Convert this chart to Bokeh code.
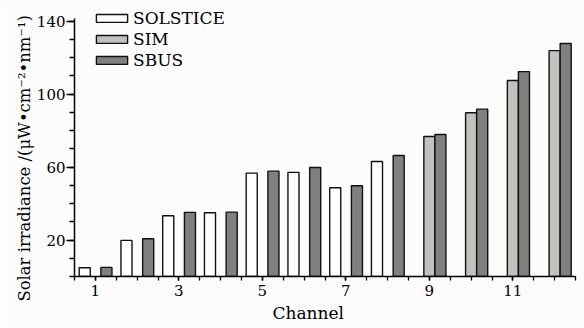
from bokeh.plotting import figure
from bokeh.models import ColumnDataSource, FixedTicker, Range1d, Legend, LegendItem, Title
from bokeh.transform import dodge
from bokeh.embed import file_html
from bokeh.resources import INLINE

# Data
solstice_channels = [1, 2, 3, 4, 5, 6, 7, 8]
solstice_values = [4.8, 19.8, 33.3, 35.0, 56.7, 57.1, 48.7, 63.1]
sim_channels = [9, 10, 11, 12]
sim_values = [76.8, 89.8, 107.5, 123.9]
sbus_channels = [1, 2, 3, 4, 5, 6, 7, 8, 9, 10, 11, 12]
sbus_values = [5.0, 20.7, 35.2, 35.3, 57.8, 59.8, 49.8, 66.4, 77.9, 91.8, 112.4, 127.8]
x_tick_labels = [1, 3, 5, 7, 9, 11]
y_tick_labels = [20, 60, 100, 140]

FONT = "DejaVu Serif"
BG = "#fcfcfc"

p = figure(width=584, height=328, output_backend="svg", toolbar_location=None,
           x_range=Range1d(0.5, 12.5), y_range=Range1d(0, 151.4),
           min_border_left=74, min_border_right=9, min_border_top=0, min_border_bottom=52,
           background_fill_color=BG, border_fill_color=BG)
p.outline_line_color = None
p.grid.visible = False

W = 0.265
src_sol = ColumnDataSource(dict(x=solstice_channels, y=solstice_values))
src_sim = ColumnDataSource(dict(x=sim_channels, y=sim_values))
src_sbus = ColumnDataSource(dict(x=sbus_channels, y=sbus_values))

r_sol = p.vbar(x=dodge("x", -0.255), top="y", bottom=0, width=W, source=src_sol,
               fill_color="white", line_color="#111111", line_width=1.4)
r_sim = p.vbar(x=dodge("x", 0.0), top="y", bottom=0, width=W, source=src_sim,
               fill_color="#c1c1be", line_color="#111111", line_width=1.4)
r_sbus = p.vbar(x=dodge("x", 0.265), top="y", bottom=0, width=W, source=src_sbus,
                fill_color="#808080", line_color="#111111", line_width=1.4)

# axes
xa = p.xaxis[0]
xa.ticker = FixedTicker(ticks=x_tick_labels, minor_ticks=[i * 0.5 for i in range(1, 26)])
ya = p.yaxis[0]
ya.ticker = FixedTicker(ticks=y_tick_labels, minor_ticks=list(range(0, 150, 10)))
ya.bounds = (0, 141.4)

for ax in (xa, ya):
    ax.axis_line_color = "black"
    ax.axis_line_width = 1.5
    ax.major_tick_line_color = "black"
    ax.minor_tick_line_color = "black"
    ax.major_tick_line_width = 1.5
    ax.minor_tick_line_width = 1.3
    ax.major_tick_in = 0
    ax.minor_tick_in = 0
    ax.major_label_text_font = FONT
    ax.major_label_text_color = "black"
    ax.major_label_text_font_size = "15px"

xa.major_tick_out = 4
xa.minor_tick_out = 4
xa.major_label_standoff = 4

ya.major_tick_out = 8
ya.minor_tick_out = 5
ya.major_label_standoff = 1

xtitle = Title(text="Channel", align="left", offset=198, vertical_align="bottom",
               text_font=FONT, text_font_size="17px", text_font_style="normal",
               text_color="black", standoff=5)
p.add_layout(xtitle, "below")

ytitle = Title(text="Solar irradiance /(\u03bcW\u2022cm\u207b\u00b2\u2022nm\u207b\u00b9)",
               align="left", offset=-25, text_font=FONT, text_font_size="16.4px",
               text_font_style="normal", text_color="black", standoff=0)
p.add_layout(ytitle, "left")

legend = Legend(items=[LegendItem(label="SOLSTICE", renderers=[r_sol]),
                       LegendItem(label="SIM", renderers=[r_sim]),
                       LegendItem(label="SBUS", renderers=[r_sbus])],
                location=(18, 206), orientation="vertical")
legend.glyph_width = 39
legend.glyph_height = 10
legend.label_height = 20
legend.spacing = 1
legend.padding = 0
legend.margin = 0
legend.label_standoff = 2
legend.label_text_font = FONT
legend.label_text_font_size = "17px"
legend.label_text_color = "black"
legend.border_line_color = None
legend.background_fill_alpha = 0
p.add_layout(legend)

open("out.html", "w").write(file_html(p, INLINE))
